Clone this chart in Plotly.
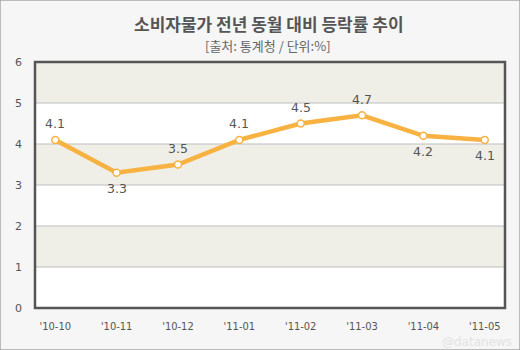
import plotly.graph_objects as go

categories = ["'10-10", "'10-11", "'10-12", "'11-01", "'11-02", "'11-03", "'11-04", "'11-05"]
values = [4.1, 3.3, 3.5, 4.1, 4.5, 4.7, 4.2, 4.1]
label_side = ["above", "below", "above", "above", "above", "above", "below", "below"]
y_ticks = [0, 1, 2, 3, 4, 5, 6]

title_text = "소비자물가 전년 동월 대비 등락률 추이"
subtitle_text = "[출처: 통계청 / 단위:%]"

LINE = "#f7b241"
BAND = "#efefe7"
GRID = "#bdbdbd"
TXT = "#555555"

fig = go.Figure()

fig.add_trace(go.Scatter(
    x=list(range(len(categories))), y=values, mode="lines+markers",
    line=dict(color=LINE, width=4.5),
    marker=dict(size=7, color="white", line=dict(color=LINE, width=1.5)),
    hoverinfo="skip", showlegend=False,
))

shapes = []
for lo in [1, 3, 5]:
    shapes.append(dict(type="rect", xref="paper", yref="y", x0=0, x1=1, y0=lo, y1=lo + 1,
                       fillcolor=BAND, line=dict(width=0), layer="below"))
for t in y_ticks[1:-1]:
    shapes.append(dict(type="line", xref="paper", yref="y", x0=0, x1=1, y0=t, y1=t,
                       line=dict(color=GRID, width=1), layer="below"))
shapes.append(dict(type="rect", xref="paper", yref="paper", x0=0, x1=1, y0=0, y1=1,
                   line=dict(color="#555555", width=2.5), layer="above"))
shapes.append(dict(type="rect", xref="paper", yref="paper",
                   x0=-35/470, x1=1 + 15/470, y0=-42/246, y1=1 + 62/246,
                   line=dict(color="#a8a8a8", width=1.5), layer="above"))

annotations = []
for i, (v, side) in enumerate(zip(values, label_side)):
    annotations.append(dict(x=i, y=v, xref="x", yref="y", text=f"{v:.1f}", showarrow=False,
                            yshift=16 if side == "above" else -16,
                            font=dict(family="DejaVu Sans", size=12.5, color=TXT)))
annotations.append(dict(xref="paper", yref="paper", x=(269 - 35) / 470, y=1 + (62 - 24) / 246,
                        text="<b>" + title_text + "</b>", showarrow=False, xanchor="center", yanchor="middle",
                        font=dict(family="Noto Sans CJK KR", size=17, color="#555555")))
annotations.append(dict(xref="paper", yref="paper", x=(268 - 35) / 470, y=1 + (62 - 45) / 246,
                        text=subtitle_text, showarrow=False, xanchor="center", yanchor="middle",
                        font=dict(family="Noto Sans CJK KR", size=13, color="#666666")))
annotations.append(dict(xref="paper", yref="paper", x=(514 - 35) / 470, y=-(342 - 308) / 246,
                        text="@datanews", showarrow=False, xanchor="right", yanchor="middle",
                        font=dict(family="DejaVu Sans", size=12, color="#e3e3e3")))

fig.update_layout(
    width=520, height=350,
    margin=dict(l=35, r=15, t=62, b=42),
    paper_bgcolor="#f6f6f6", plot_bgcolor="white",
    shapes=shapes, annotations=annotations,
    xaxis=dict(range=[-0.33, 7.33], tickmode="array", tickvals=list(range(len(categories))),
               ticktext=categories, showgrid=False, zeroline=False, showline=False,
               ticks="", ticklabelstandoff=10,
               tickfont=dict(family="DejaVu Sans Condensed", size=11, color=TXT), fixedrange=True),
    yaxis=dict(range=[0, 6], tickmode="array", tickvals=y_ticks, showgrid=False, zeroline=False,
               showline=False, ticks="", ticklabelstandoff=12,
               tickfont=dict(family="DejaVu Sans", size=11, color=TXT), fixedrange=True),
)

fig.write_html("out.html")
